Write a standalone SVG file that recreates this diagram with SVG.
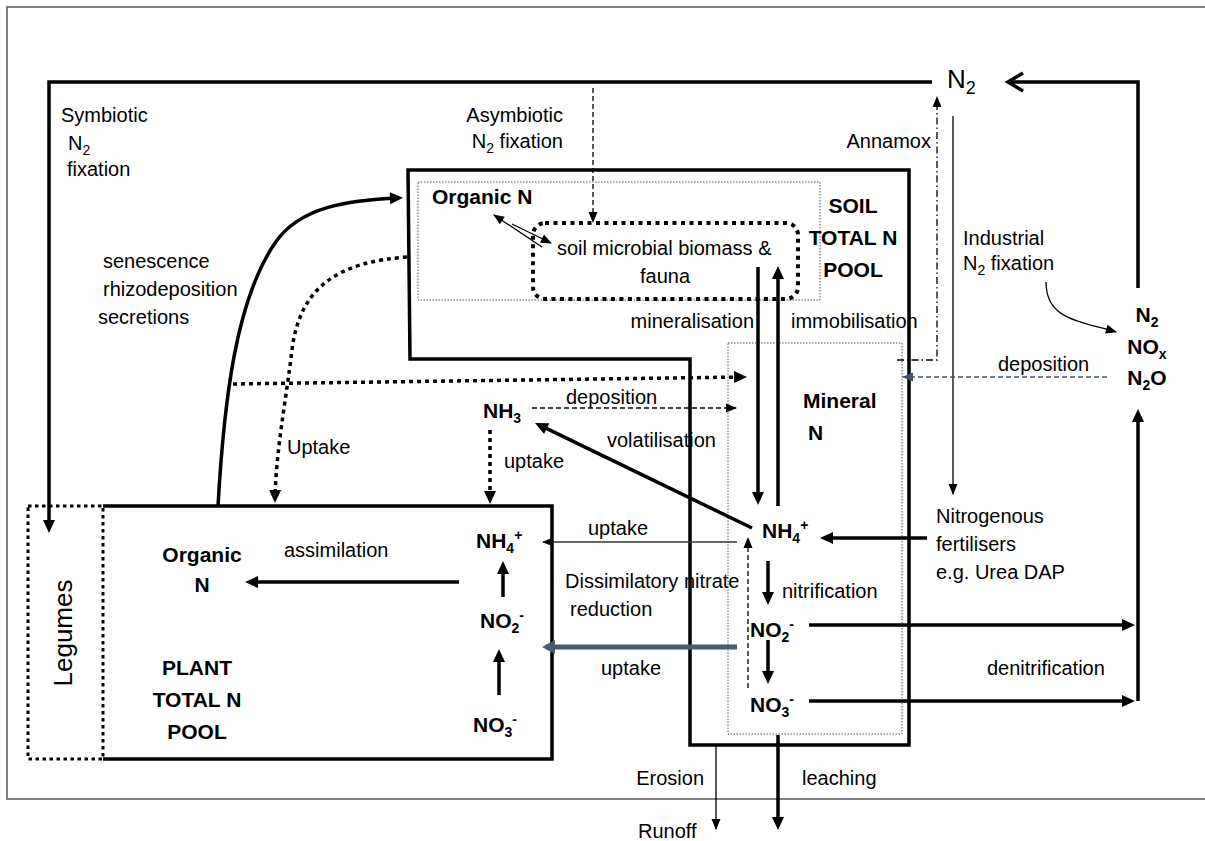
<svg xmlns="http://www.w3.org/2000/svg" width="1205" height="841" viewBox="0 0 1205 841">
<style>
text{font-family:"Liberation Sans",Arial,sans-serif;font-size:20px;fill:#000}
.b{font-weight:bold;font-size:21px}
.s{font-size:14px}
.big{font-size:26px}
.thick{stroke:#000;stroke-width:3.5;fill:none}
.thin{stroke:#000;stroke-width:1.3;fill:none}
.dot{stroke:#000;stroke-width:3.5;stroke-dasharray:4 4;fill:none}
.gdot{stroke:#555;stroke-width:1;stroke-dasharray:1.5 1.5;fill:none}
.dash{stroke:#000;stroke-width:1.3;stroke-dasharray:5 3;fill:none}
</style>
<defs>
<marker id="ak" markerUnits="userSpaceOnUse" markerWidth="14" markerHeight="12" refX="9" refY="6" orient="auto" overflow="visible"><path d="M0,0 L13,6 L0,12 z" fill="#000"/></marker>
<marker id="an" markerUnits="userSpaceOnUse" markerWidth="12" markerHeight="10" refX="10" refY="4.5" orient="auto" overflow="visible"><path d="M0,0 L11,4.5 L0,9 z" fill="#000"/></marker>
<marker id="ab" markerUnits="userSpaceOnUse" markerWidth="14" markerHeight="14" refX="9" refY="7" orient="auto" overflow="visible"><path d="M0,0 L13,7 L0,14 z" fill="#4a5a72"/></marker>
<marker id="as" markerUnits="userSpaceOnUse" markerWidth="12" markerHeight="10" refX="10" refY="4.5" orient="auto" overflow="visible"><path d="M0,0 L11,4.5 L0,9 z" fill="#44546a"/></marker>
<marker id="ch" markerUnits="userSpaceOnUse" markerWidth="20" markerHeight="20" refX="16" refY="9" orient="auto" overflow="visible"><path d="M1,0 L16,9 L1,18" fill="none" stroke="#000" stroke-width="3.5"/></marker>
</defs>

<path d="M1210,7 H7 V799 H1210" fill="none" stroke="#555" stroke-width="1.5"/>

<g id="soil-box"><path d="M408,170 H909 V745 H690 V359 H410 Z" class="thick"/></g>
<g id="organic-pool"><rect x="418" y="182" width="402" height="118" class="gdot"/></g>
<g id="mineral-pool"><rect x="728" y="343" width="174" height="391" class="gdot"/></g>
<g id="microbial"><rect x="533" y="223" width="265" height="76" rx="12" stroke="#000" stroke-width="4" stroke-dasharray="4 4.5" fill="none"/></g>
<g id="plant-box"><path d="M103,506 H552 V759 H103" class="thick"/></g>
<g id="legumes"><rect x="28" y="506" width="75" height="253" stroke="#000" stroke-width="3" stroke-dasharray="3.5 3.5" fill="none"/></g>

<g id="connectors">
<path d="M932,82 H49 V529" class="thick" marker-end="url(#ak)"/>
<path d="M1138,288 V82 H1008" class="thick" marker-end="url(#ch)"/>
<path d="M593,88 V222" class="dash" stroke-dasharray="3 2" marker-end="url(#an)"/>
<path d="M897,360 H937 V97" class="thin" stroke-dasharray="7 3 1.5 3" marker-end="url(#an)"/>
<path d="M953,116 V494" class="thin" marker-end="url(#an)"/>
<path d="M1046,282 C1046,318 1075,320 1116,332" class="thin" marker-end="url(#an)"/>
<path d="M1107,377 H903" stroke="#44546a" stroke-width="1.3" stroke-dasharray="5 3" fill="none" marker-end="url(#as)"/>
<path d="M927,538 H824" class="thick" marker-end="url(#ak)"/>
<path d="M758,267 V501" class="thick" marker-end="url(#ak)"/>
<path d="M778,506 V270" class="thick" marker-end="url(#ak)"/>
<path d="M542,247 L494,215" class="thin" marker-end="url(#an)"/>
<path d="M512,224 L551,243" class="thin" marker-end="url(#an)"/>
<path d="M752,528 L538.6,424.7" class="thick" marker-end="url(#ak)"/>
<path d="M532,408 H736" class="dash" marker-end="url(#an)"/>
<path d="M233,384 L743,377" class="dot" marker-end="url(#ak)"/>
<path d="M490,430 V500" class="dot" marker-end="url(#ak)"/>
<path d="M218,506 C224,400 236,300 275,243 C300,206 350,200 399,198" class="thick" marker-end="url(#ak)"/>
<path d="M407,257 C340,262 300,285 292,350 C286,400 276,450 275,499" class="dot" marker-end="url(#ak)"/>
<path d="M737,542 H543" stroke="#333" stroke-width="1.3" fill="none" marker-end="url(#an)"/>
<path d="M748,688 V538" class="dash" stroke-dasharray="4 3" marker-end="url(#an)"/>
<path d="M737,647 H546" stroke="#4a5a72" stroke-width="5" fill="none" marker-end="url(#ab)"/>
<path d="M459,582 H249" class="thick" marker-end="url(#ak)"/>
<path d="M503,597 V565" class="thick" marker-end="url(#ak)"/>
<path d="M499,695 V653" class="thick" marker-end="url(#ak)"/>
<path d="M768,561 V601" class="thick" marker-end="url(#ak)"/>
<path d="M768,640 V680" class="thick" marker-end="url(#ak)"/>
<path d="M809,625 H1131" class="thick" marker-end="url(#ak)"/>
<path d="M809,701 H1131" class="thick" marker-end="url(#ak)"/>
<path d="M1138,701 V413" class="thick" marker-end="url(#ak)"/>
<path d="M716,745 V829" class="thin" marker-end="url(#an)"/>
<path d="M778,735 V826" class="thick" marker-end="url(#ak)"/>
</g>

<g id="labels">
<text x="61" y="122">Symbiotic</text>
<text x="68" y="150">N<tspan class="s" dy="5">2</tspan></text>
<text x="67" y="176">fixation</text>
<text x="103" y="268">senescence</text>
<text x="103" y="296">rhizodeposition</text>
<text x="98" y="324">secretions</text>
<text x="287" y="454">Uptake</text>
<text x="563" y="122" text-anchor="end">Asymbiotic</text>
<text x="563" y="148" text-anchor="end">N<tspan class="s" dy="5">2</tspan><tspan dy="-5"> fixation</tspan></text>
<text x="931" y="148" text-anchor="end">Annamox</text>
<text x="947" y="88" class="big">N<tspan style="font-size:18px" dy="6">2</tspan></text>
<text x="963" y="245">Industrial</text>
<text x="963" y="270">N<tspan class="s" dy="5">2</tspan><tspan dy="-5"> fixation</tspan></text>
<text x="754" y="328" text-anchor="end">mineralisation</text>
<text x="791" y="328">immobilisation</text>
<text x="998" y="371">deposition</text>
<text x="566" y="404">deposition</text>
<text x="607" y="447">volatilisation</text>
<text x="504" y="468">uptake</text>
<text x="588" y="535">uptake</text>
<text x="936" y="523">Nitrogenous</text>
<text x="936" y="551">fertilisers</text>
<text x="936" y="579">e.g. Urea DAP</text>
<text x="284" y="557">assimilation</text>
<text x="565" y="588">Dissimilatory nitrate</text>
<text x="570" y="616">reduction</text>
<text x="782" y="598">nitrification</text>
<text x="601" y="675">uptake</text>
<text x="987" y="675">denitrification</text>
<text x="704" y="785" text-anchor="end">Erosion</text>
<text x="802" y="785">leaching</text>
<text x="638" y="838">Runoff</text>
<text x="63" y="642" class="big" text-anchor="middle" transform="rotate(-90 63 633)">Legumes</text>
</g>

<g id="node-organic-soil"><text class="b" x="432" y="204">Organic N</text></g>
<g id="node-microbial"><text x="557" y="255">soil microbial biomass &amp;</text><text x="665" y="283" text-anchor="middle">fauna</text></g>
<g id="node-soil-pool"><text class="b" x="853" y="213" text-anchor="middle">SOIL</text><text class="b" x="853" y="245" text-anchor="middle">TOTAL N</text><text class="b" x="853" y="277" text-anchor="middle">POOL</text></g>
<g id="node-gases"><text class="b" x="1147" y="322" text-anchor="middle">N<tspan class="s" dy="5">2</tspan></text><text class="b" x="1147" y="354" text-anchor="middle">NO<tspan class="s" dy="5">x</tspan></text><text class="b" x="1147" y="385" text-anchor="middle">N<tspan class="s" dy="5">2</tspan><tspan dy="-5">O</tspan></text></g>
<g id="node-nh3"><text class="b" x="483" y="418">NH<tspan class="s" dy="5">3</tspan></text></g>
<g id="node-mineral"><text class="b" x="803" y="408">Mineral</text><text class="b" x="808" y="440">N</text></g>
<g id="node-nh4-soil"><text class="b" x="762" y="538">NH<tspan class="s" dy="5">4</tspan><tspan class="s" dy="-13">+</tspan></text></g>
<g id="node-no2-soil"><text class="b" x="750" y="637">NO<tspan class="s" dy="5">2</tspan><tspan class="s" dy="-13">-</tspan></text></g>
<g id="node-no3-soil"><text class="b" x="750" y="712">NO<tspan class="s" dy="5">3</tspan><tspan class="s" dy="-13">-</tspan></text></g>
<g id="node-nh4-plant"><text class="b" x="476" y="548">NH<tspan class="s" dy="5">4</tspan><tspan class="s" dy="-13">+</tspan></text></g>
<g id="node-no2-plant"><text class="b" x="480" y="628">NO<tspan class="s" dy="5">2</tspan><tspan class="s" dy="-13">-</tspan></text></g>
<g id="node-no3-plant"><text class="b" x="473" y="732">NO<tspan class="s" dy="5">3</tspan><tspan class="s" dy="-13">-</tspan></text></g>
<g id="node-organic-plant"><text class="b" x="202" y="562" text-anchor="middle">Organic</text><text class="b" x="202" y="592" text-anchor="middle">N</text></g>
<g id="node-plant-pool"><text class="b" x="197" y="675" text-anchor="middle">PLANT</text><text class="b" x="197" y="707" text-anchor="middle">TOTAL N</text><text class="b" x="197" y="739" text-anchor="middle">POOL</text></g>
</svg>
